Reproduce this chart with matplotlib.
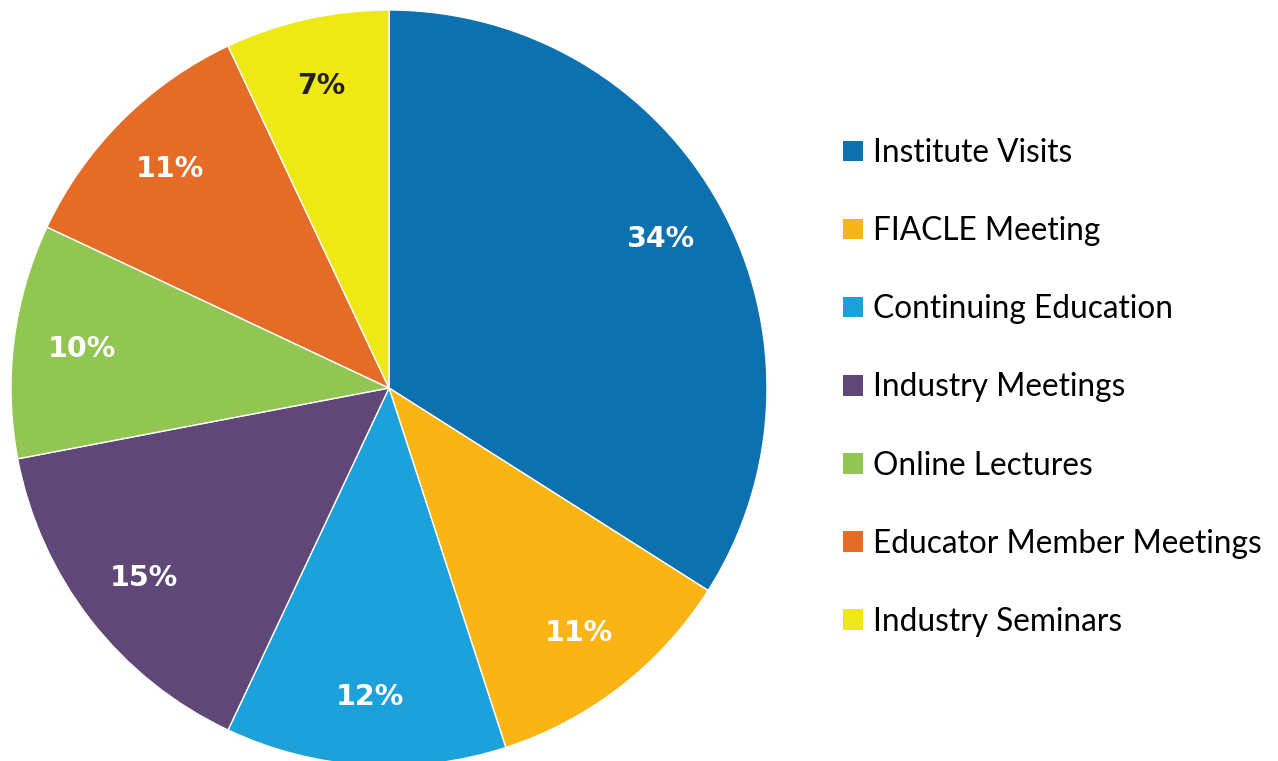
import matplotlib
matplotlib.use("Agg")
import matplotlib.pyplot as plt
from matplotlib.patches import Patch

# data
CATEGORIES = [
    "Institute Visits",
    "FIACLE Meeting",
    "Continuing Education",
    "Industry Meetings",
    "Online Lectures",
    "Educator Member Meetings",
    "Industry Seminars",
]
SHARES = [34, 11, 12, 15, 10, 11, 7]

COLORS = ["#0E71AF", "#FBB415", "#1DA1DB", "#5F4878", "#92C652", "#E56C27", "#EEE914"]
LABEL_COLORS = ["white"] * 6 + ["#231F20"]

W, H = 1278, 761
fig = plt.figure(figsize=(W / 100, H / 100), dpi=100)
fig.patch.set_facecolor("white")

# pie centre ~ (389, 388) px from top-left, radius ~378 px
cx, cy, r = 389, 388, 378
ax = fig.add_axes([(cx - r) / W, (H - cy - r) / H, 2 * r / W, 2 * r / H])

wedges, _, autotexts = ax.pie(
    SHARES, colors=COLORS, startangle=90, counterclock=False,
    autopct=lambda p: f"{p:.0f}%", pctdistance=0.82, radius=1,
    wedgeprops=dict(edgecolor="white", linewidth=1),
)
for t, c in zip(autotexts, LABEL_COLORS):
    t.set_color(c)
    t.set_fontsize(20.5)
    t.set_fontweight("bold")
    t.set_fontfamily("DejaVu Sans")
ax.set_xlim(-1, 1)
ax.set_ylim(-1, 1)
ax.set_aspect("equal")
ax.axis("off")

handles = [Patch(facecolor=c, edgecolor="none") for c in COLORS]
fig.legend(handles, CATEGORIES, loc="upper left",
           bbox_to_anchor=(843 / W, 1 - 138 / H), frameon=False,
           prop={"family": "Lato", "size": 22.8},
           handlelength=0.62, handleheight=0.62, handletextpad=0.33,
           labelspacing=1.52, borderpad=0, borderaxespad=0)

fig.savefig("out.png", dpi=100, facecolor="white")
